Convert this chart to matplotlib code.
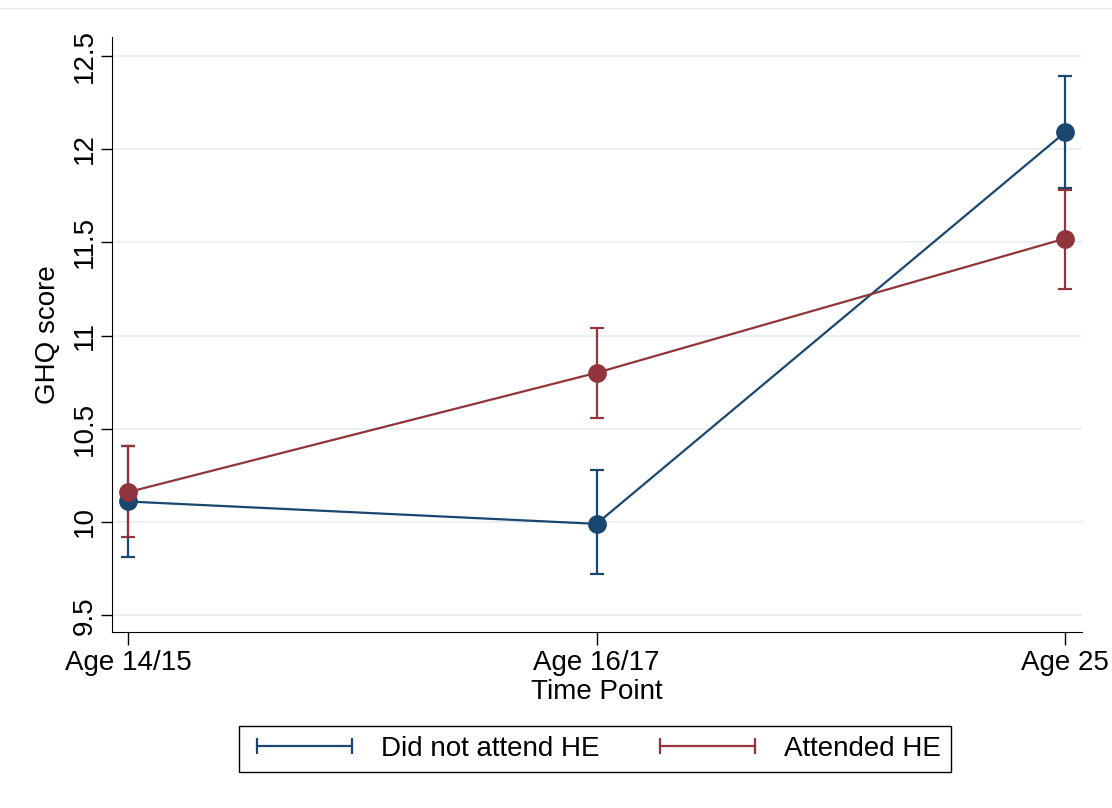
import matplotlib.pyplot as plt
from matplotlib.lines import Line2D

plt.rcParams['font.family'] = ['Liberation Sans', 'DejaVu Sans']

# data
time_points = ['Age 14/15', 'Age 16/17', 'Age 25']
no_he_mean = [10.11, 9.99, 12.09]
no_he_lo = [9.81, 9.72, 11.79]
no_he_hi = [10.41, 10.28, 12.39]
he_mean = [10.16, 10.80, 11.52]
he_lo = [9.92, 10.56, 11.25]
he_hi = [10.41, 11.04, 11.78]

blue = '#1a476f'
red = '#90353b'
fs = 20

fig = plt.figure(figsize=(11.12, 8.08), dpi=100)
ax = fig.add_axes([0.1007, 0.2178, 0.8723, 0.7362])

x = list(range(len(time_points)))
series = [
    (no_he_mean, no_he_lo, no_he_hi, blue, 'Did not attend HE'),
    (he_mean, he_lo, he_hi, red, 'Attended HE'),
]
handles = []
for mean, lo, hi, col, lab in series:
    err = [[m - l for m, l in zip(mean, lo)], [h - m for m, h in zip(mean, hi)]]
    ax.errorbar(x, mean, yerr=err, fmt='none', ecolor=col, elinewidth=1.6,
                capsize=5, capthick=1.6, zorder=3)
    ax.plot(x, mean, color=col, lw=1.6, marker='o', markersize=12.5, zorder=4)
    handles.append(Line2D([0, 1], [0, 0], color=col, lw=1.6, marker='|',
                          markersize=11, markeredgewidth=1.6, label=lab))

ax.set_xlim(-0.034, 2.036)
ax.set_ylim(9.41, 12.6)
ax.set_xticks(x)
ax.set_xticklabels(time_points, fontsize=fs)
ax.set_yticks([9.5, 10, 10.5, 11, 11.5, 12, 12.5])
ax.set_yticklabels(['9.5', '10', '10.5', '11', '11.5', '12', '12.5'],
                   fontsize=fs, rotation=90, va='center')
ax.tick_params(axis='x', length=9, width=1, pad=4)
ax.tick_params(axis='y', length=8, width=1, pad=2)
ax.grid(axis='y', color='#e6eeef', lw=1.2)
ax.set_axisbelow(True)
for s in ['top', 'right']:
    ax.spines[s].set_visible(False)
ax.set_xlabel('Time Point', fontsize=fs, labelpad=2)
ax.set_ylabel('GHQ score', fontsize=fs, labelpad=8)

leg = fig.legend(handles=handles, loc='center', ncol=2, fontsize=fs,
                 bbox_to_anchor=(0.535, 0.073),
                 handlelength=4.0, handletextpad=0.75, columnspacing=1.9,
                 borderpad=0.35, numpoints=2, fancybox=False,
                 edgecolor='black', framealpha=1)
leg.get_frame().set_linewidth(1.0)

fig.add_artist(Line2D([0, 1], [0.99, 0.99], color='#e8e8e8', lw=1,
                      transform=fig.transFigure))

fig.savefig('out.png', dpi=100)
